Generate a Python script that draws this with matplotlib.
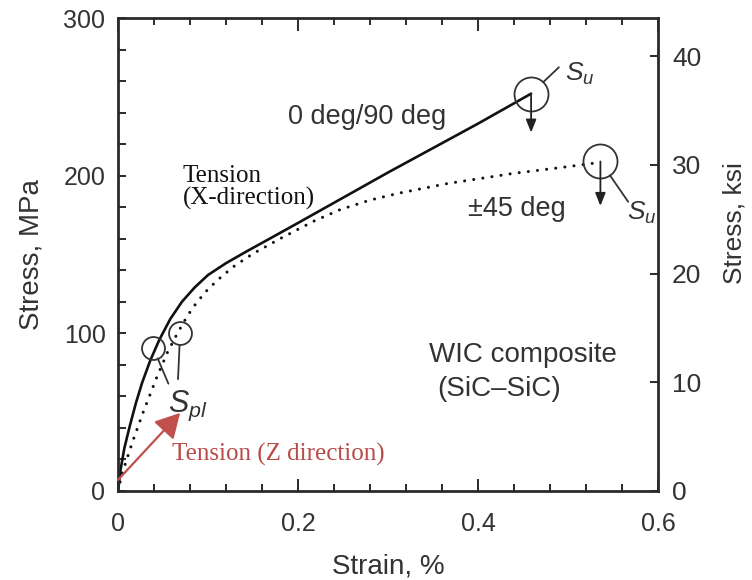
import matplotlib

matplotlib.use("Agg")
import matplotlib.pyplot as plt
from matplotlib.ticker import MultipleLocator

# 0 deg/90 deg curve (solid)
strain_0_90 = [0.0, 0.003, 0.007, 0.013, 0.02, 0.027, 0.036, 0.046, 0.058, 0.071,
               0.085, 0.1, 0.12, 0.143, 0.17, 0.2, 0.25, 0.3, 0.35, 0.4, 0.459]
stress_0_90 = [0, 14, 27, 41, 56, 69, 83, 96, 109, 120,
               129, 137, 144.5, 152, 160.5, 170, 186, 202, 217.5, 233, 252]

# +/-45 deg curve (dotted)
strain_45 = [0.0, 0.004, 0.016, 0.028, 0.043, 0.055, 0.066, 0.077, 0.088, 0.1,
             0.115, 0.13, 0.15, 0.18, 0.217, 0.247, 0.28, 0.313, 0.366, 0.44, 0.49, 0.53]
stress_45 = [0, 10, 31, 50, 72, 88, 100, 111, 120, 128,
             136, 143, 150.5, 160, 171, 178.5, 184.5, 189, 195, 201.5, 205, 208]

# proportional limit and ultimate strength points
spl_pts = [(0.039, 91), (0.069, 100)]
su_pts = [(0.459, 252), (0.536, 209)]

MPA_PER_KSI = 6.895
x_ticks = [0, 0.2, 0.4, 0.6]
mpa_ticks = [0, 100, 200, 300]
ksi_ticks = [0, 10, 20, 30, 40]

INK = "#2a2a2a"
TXT = "#333333"
RED = "#c0504d"

plt.rcParams["font.family"] = ["Liberation Sans", "DejaVu Sans"]
plt.rcParams["mathtext.fontset"] = "custom"
plt.rcParams["mathtext.it"] = "Liberation Sans:italic"
plt.rcParams["mathtext.rm"] = "Liberation Sans"

fig = plt.figure(figsize=(7.52, 5.80), dpi=100)
ax = fig.add_axes([118 / 752, 89 / 580, 540 / 752, 473 / 580])

ax.plot(strain_0_90, stress_0_90, color="#111111", lw=1.9,
        solid_capstyle="round", solid_joinstyle="round")
ax.plot(strain_45, stress_45, color="#111111", lw=2.2,
        linestyle=(0, (0.01, 3.0)), dash_capstyle="round")

for x, y in spl_pts:
    ax.plot(x, y, "o", ms=16.5, mfc="none", mec=TXT, mew=1.3)
for x, y in su_pts:
    ax.plot(x, y, "o", ms=24.5, mfc="none", mec=TXT, mew=1.3)

ax.set_xlim(0, 0.6)
ax.set_ylim(0, 300)
ax.set_xticks(x_ticks)
ax.set_xticklabels(["0", "0.2", "0.4", "0.6"])
ax.set_yticks(mpa_ticks)
ax.xaxis.set_minor_locator(MultipleLocator(0.04))
ax.yaxis.set_minor_locator(MultipleLocator(20))
ax.tick_params(which="both", direction="in", top=True, right=False,
               colors=INK, labelcolor=TXT, labelsize=18, width=1.4)
ax.tick_params(axis="x", which="major", length=9, pad=15)
ax.tick_params(axis="x", which="minor", length=5)
ax.tick_params(axis="y", which="major", length=6, pad=9)
ax.tick_params(axis="y", which="minor", length=6)
for s in ax.spines.values():
    s.set_linewidth(2.0)
    s.set_color(INK)

ax.set_xlabel("Strain, %", fontsize=20, color=TXT, labelpad=13)
ax.set_ylabel("Stress, MPa", fontsize=20, color=TXT, labelpad=14)

ax2 = ax.twinx()
ax2.set_ylim(0, 300 / MPA_PER_KSI)
ax2.set_yticks(ksi_ticks)
ax2.tick_params(direction="in", length=6, width=1.4, colors=INK,
                labelcolor=TXT, labelsize=19, pad=10)
for s in ax2.spines.values():
    s.set_visible(False)
ax2.set_ylabel("Stress, ksi", fontsize=19, color=TXT, labelpad=15)
ax2.yaxis.label.set_y(0.567)

# S_pl leaders and label
ax.annotate("", xy=spl_pts[0], xytext=(11, -26), textcoords="offset points",
            arrowprops=dict(arrowstyle="-", color=TXT, lw=1.3,
                            shrinkA=0, shrinkB=8.5))
ax.annotate("", xy=spl_pts[1], xytext=(-1.5, -33), textcoords="offset points",
            arrowprops=dict(arrowstyle="-", color=TXT, lw=1.3,
                            shrinkA=0, shrinkB=8.5))
ax.text(0.055, 50, "$S_{pl}$", fontsize=22, color=TXT, ha="left", va="baseline")

# S_u leaders, down arrows and labels
ax.annotate("", xy=su_pts[0], xytext=(20, 19), textcoords="offset points",
            arrowprops=dict(arrowstyle="-", color=TXT, lw=1.3,
                            shrinkA=0, shrinkB=12))
ax.text(0.497, 260, "$S_u$", fontsize=19, color=TXT, ha="left", va="baseline")
ax.annotate("", xy=su_pts[0], xytext=(0, -28), textcoords="offset points",
            arrowprops=dict(arrowstyle="<|-,head_length=0.55,head_width=0.22",
                            color="#222222", lw=1.3, shrinkA=0, shrinkB=0,
                            mutation_scale=14))
ax.annotate("", xy=su_pts[1], xytext=(20, -29), textcoords="offset points",
            arrowprops=dict(arrowstyle="-", color=TXT, lw=1.3,
                            shrinkA=0, shrinkB=12))
ax.text(0.566, 172, "$S_u$", fontsize=19, color=TXT, ha="left", va="baseline")
ax.annotate("", xy=su_pts[1], xytext=(0, -32), textcoords="offset points",
            arrowprops=dict(arrowstyle="<|-,head_length=0.55,head_width=0.22",
                            color="#222222", lw=1.3, shrinkA=0, shrinkB=0,
                            mutation_scale=14))

# curve labels
ax.text(0.277, 237, "0 deg/90 deg", fontsize=19.5, color=TXT, ha="center", va="center")
ax.text(0.443, 179, "±45 deg", fontsize=19.5, color=TXT, ha="center", va="center")
ax.text(0.45, 86, "WIC composite", fontsize=20, color=TXT, ha="center", va="center")
ax.text(0.424, 65, "(SiC–SiC)", fontsize=20, color=TXT, ha="center", va="center")
ax.text(0.072, 207, "Tension\n(X-direction)", fontsize=18, family="Liberation Serif",
        color="#111111", ha="left", va="top", linespacing=1.0)

# red Z-direction arrow
ax.annotate("", xy=(0.069, 49.5), xytext=(0.0, 7),
            arrowprops=dict(arrowstyle="-|>,head_length=1.0,head_width=0.55",
                            color=RED, lw=1.6, shrinkA=0, shrinkB=0,
                            mutation_scale=15))
ax.text(0.06, 23, "Tension (Z direction)", fontsize=18, family="Liberation Serif",
        color="#b94a48", ha="left", va="center")

fig.savefig("out.png", dpi=100)
